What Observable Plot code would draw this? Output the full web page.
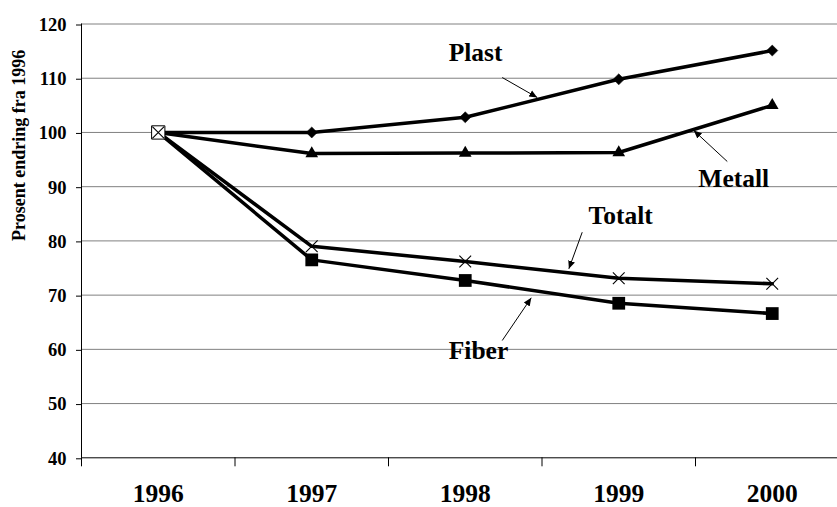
<!DOCTYPE html>
<html>
<head>
<meta charset="utf-8">
<script src="https://cdn.jsdelivr.net/npm/d3@7"></script>
<script src="https://cdn.jsdelivr.net/npm/@observablehq/plot@0.6"></script>
<style>
  body { margin: 0; background: #fff; }
  #chart svg, #chart svg text { font-family: "Liberation Serif", "Times New Roman", Times, serif !important; font-weight: bold; }
</style>
</head>
<body>
<div id="chart"></div>
<script>
// Index of packaging use per material, 1996 = 100
const years = [1996, 1997, 1998, 1999, 2000];
const plast = [100, 100, 102.8, 109.8, 115.1];
const metall = [100, 96.1, 96.2, 96.3, 105.0];
const totalt = [100, 79.0, 76.2, 73.1, 72.1];
const fiber = [100, 76.5, 72.7, 68.5, 66.6];
const yTicks = [40, 50, 60, 70, 80, 90, 100, 110, 120];
const baseYear = 1996;
const yTitle = "Prosent endring fra 1996";

// Callout labels with arrows, in data units (year, index)
const labelNames = ["Plast", "Metall", "Totalt", "Fiber"];
const labelAt = [[1998.067, 114.74], [1999.749, 91.45], [1999.013, 84.59], [1998.086, 59.64]];
const arrowFrom = [[1998.241, 110.13], [1999.707, 94.64], [1998.762, 81.60], [1998.241, 61.63]];
const arrowTo = [[1998.469, 106.44], [1999.489, 100.36], [1998.675, 74.85], [1998.430, 69.51]];

const rows = (series, values) => years.map((year, i) => ({series, year, value: values[i]}));
const fiberRows = rows("Fiber", fiber);
const metallRows = rows("Metall", metall);
const plastRows = rows("Plast", plast);
const totaltRows = rows("Totalt", totalt);
const allRows = [...fiberRows, ...metallRows, ...plastRows, ...totaltRows];
const notBase = d => d.year !== baseYear;

const callouts = labelNames.map((label, i) => ({
  label,
  lx: labelAt[i][0], ly: labelAt[i][1],
  x1: arrowFrom[i][0], y1: arrowFrom[i][1],
  x2: arrowTo[i][0], y2: arrowTo[i][1]
}));

// category ticks sit on the boundaries between years
const boundaries = years.map(y => y - 0.5);

const serif = "Liberation Serif";

const chart = Plot.plot({
  width: 837,
  height: 507,
  marginLeft: 81,
  marginRight: 0,
  marginTop: 23.5,
  marginBottom: 49.7,
  style: {fontFamily: serif, fontWeight: "bold", color: "black", background: "white", overflow: "visible"},
  x: {domain: [years[0] - 0.5, years[years.length - 1] + 0.5], range: [81, 848.5], label: null},
  y: {domain: [yTicks[0], yTicks[yTicks.length - 1]], label: null},
  marks: [
    Plot.ruleY(yTicks.filter(d => d > yTicks[0]), {stroke: "#808080", strokeWidth: 1}),
    Plot.ruleY([yTicks[0]], {stroke: "black", strokeWidth: 1}),
    Plot.ruleX([boundaries[0]], {stroke: "black", strokeWidth: 1}),
    Plot.axisY({ticks: yTicks, tickSize: 5, tickPadding: 10, fontSize: 18.5, fontFamily: serif, dy: 1, label: null, stroke: "black"}),
    Plot.axisX({ticks: boundaries, tickSize: 9, tickFormat: () => "", label: null, stroke: "black"}),
    Plot.axisX({ticks: years, tickSize: 0, tickPadding: 26, tickFormat: d3.format("d"), fontSize: 25.5, fontFamily: serif, label: null}),
    Plot.text([yTitle], {frameAnchor: "left", rotate: -90, dx: -62.5, fontSize: 18, fontWeight: "bold", fontFamily: serif}),

    Plot.line(allRows, {x: "year", y: "value", z: "series", stroke: "black", strokeWidth: 3.5}),

    Plot.dot(fiberRows.filter(notBase), {x: "year", y: "value", symbol: "square", r: 7.2, fill: "black"}),
    Plot.dot(metallRows.filter(notBase), {x: "year", y: "value", symbol: "triangle", r: 4.7, fill: "black"}),
    Plot.dot(plastRows.filter(notBase), {x: "year", y: "value", symbol: "diamond2", r: 5, fill: "black", stroke: "black", strokeWidth: 0.5}),
    Plot.dot(totaltRows.filter(d => d.year === baseYear), {x: "year", y: "value", symbol: "square", r: 7.5, fill: "white", stroke: "black", strokeWidth: 1}),
    Plot.dot(totaltRows, {x: "year", y: "value", symbol: "times", r: 5.4, stroke: "black", strokeWidth: 1.1}),

    Plot.link(callouts, {x1: "x1", y1: "y1", x2: "x2", y2: "y2", stroke: "black", strokeWidth: 1, markerEnd: "arrow"}),
    Plot.text(callouts, {x: "lx", y: "ly", text: "label", fontSize: 25.5, fontWeight: "bold", fontFamily: serif, fill: "black"})
  ]
});

// solid arrowheads for the callouts
d3.select(chart).selectAll("marker").each(function () {
  const m = d3.select(this);
  m.attr("markerWidth", 16).attr("markerHeight", 16)
    .attr("fill", "black").attr("stroke", "none");
  m.select("path").attr("d", "M-5,-2.2L0,0L-5,2.2Z");
});

document.getElementById("chart").appendChild(chart);
</script>
</body>
</html>
